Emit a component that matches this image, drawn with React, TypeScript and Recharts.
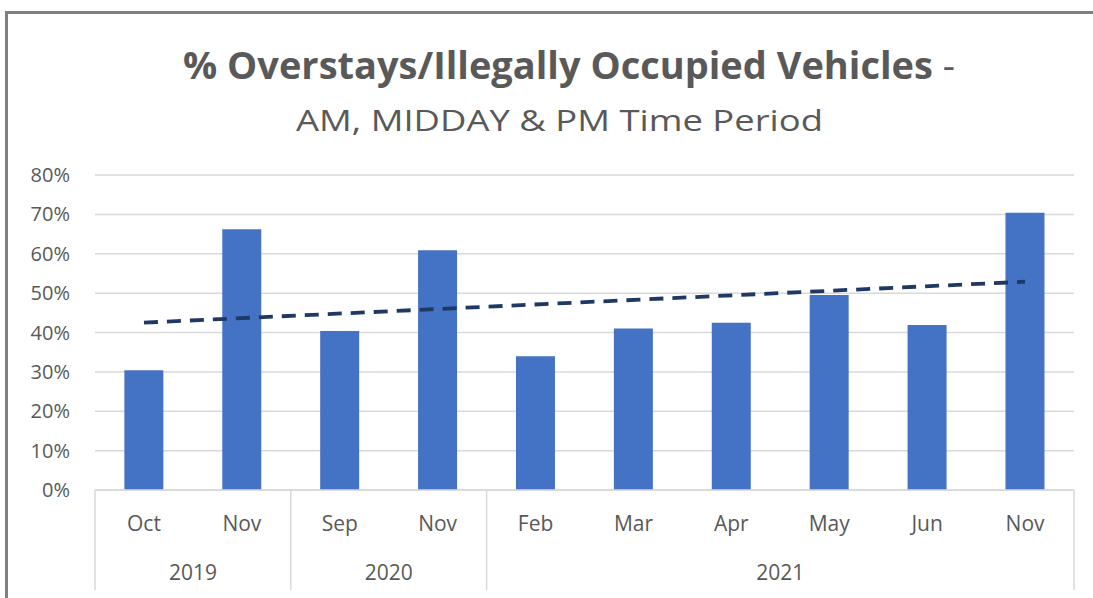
import React from "react";
import {
  ComposedChart,
  Bar,
  Line,
  XAxis,
  YAxis,
  CartesianGrid,
} from "recharts";

// ---- data ----
const months = ["Oct", "Nov", "Sep", "Nov", "Feb", "Mar", "Apr", "May", "Jun", "Nov"];
const years = ["2019", "2019", "2020", "2020", "2021", "2021", "2021", "2021", "2021", "2021"];
const overstayPct = [30.4, 66.2, 40.4, 60.9, 34.0, 41.0, 42.5, 49.5, 41.9, 70.4];
// linear trendline as drawn (end points)
const trendPct: (number | null)[] = [42.5, null, null, null, null, null, null, null, null, 52.9];
const yTicks = [0, 10, 20, 30, 40, 50, 60, 70, 80];

const titleMain = "% Overstays/Illegally Occupied Vehicles";
const titleDash = " -";
const subtitle = "AM, MIDDAY & PM Time Period";

const data = months.map((m, i) => ({
  month: m,
  year: years[i],
  value: overstayPct[i],
  trend: trendPct[i],
}));

// ---- layout ----
const W = 1093;
const H = 598;
const PLOT_LEFT = 95;
const PLOT_RIGHT = 1074;
const PLOT_TOP = 175;
const PLOT_BOTTOM = 490;
const PLOT_W = PLOT_RIGHT - PLOT_LEFT;
const FONT = "'Open Sans', 'Noto Sans', sans-serif";
const TEXT = "#595959";
const GRID = "#d9d9d9";
const FRAME = "#808080";

function MonthTick(props: any) {
  const { x, y, payload } = props;
  const i: number = props.index ?? payload.index;
  const band = PLOT_W / months.length;
  const parts: React.ReactNode[] = [];
  parts.push(
    <text key="m" x={x} y={y + 41} textAnchor="middle" fill={TEXT} fontSize={21} fontFamily={FONT}>
      {payload.value}
    </text>
  );
  const isFirst = i === 0 || years[i] !== years[i - 1];
  if (isFirst) {
    parts.push(
      <line key="l" x1={x - band / 2} x2={x - band / 2} y1={y} y2={y + 100} stroke={GRID} strokeWidth={1.5} />
    );
    const n = years.filter((yy) => yy === years[i]).length;
    parts.push(
      <text key="y" x={x + ((n - 1) / 2) * band} y={y + 90} textAnchor="middle" fill={TEXT} fontSize={21} fontFamily={FONT}>
        {years[i]}
      </text>
    );
  }
  if (i === months.length - 1) {
    parts.push(
      <line key="r" x1={x + band / 2} x2={x + band / 2} y1={y} y2={y + 100} stroke={GRID} strokeWidth={1.5} />
    );
  }
  return <g>{parts}</g>;
}

export default function App() {
  return (
    <div
      style={{
        position: "absolute",
        left: 0,
        top: 0,
        width: W,
        height: H,
        overflow: "hidden",
        background: "#fff",
      }}
    >
      <svg width={W} height={H} style={{ position: "absolute", left: 0, top: 0 }}>
        <line x1={5} x2={W} y1={12.5} y2={12.5} stroke={FRAME} strokeWidth={3} />
        <line x1={6.5} x2={6.5} y1={11} y2={H} stroke={FRAME} strokeWidth={3} />
        <text
          x={569}
          y={79}
          textAnchor="middle"
          fill={TEXT}
          fontSize={37}
          fontFamily={FONT}
          textLength={772}
          lengthAdjust="spacingAndGlyphs"
        >
          <tspan fontWeight={700}>{titleMain}</tspan>
          <tspan fontWeight={400}>{titleDash}</tspan>
        </text>
        <text
          x={559.5}
          y={131}
          textAnchor="middle"
          fill={TEXT}
          fontSize={29}
          fontFamily={FONT}
          textLength={527}
          lengthAdjust="spacingAndGlyphs"
        >
          {subtitle}
        </text>
      </svg>
      <div style={{ position: "absolute", left: 0, top: 0 }}>
        <ComposedChart
          width={W}
          height={H}
          data={data}
          margin={{ top: PLOT_TOP, right: W - PLOT_RIGHT, bottom: 0, left: 0 }}
          barCategoryGap="30%"
        >
          <CartesianGrid vertical={false} stroke={GRID} strokeWidth={1.5} />
          <XAxis
            dataKey="month"
            interval={0}
            height={H - PLOT_BOTTOM}
            axisLine={{ stroke: GRID, strokeWidth: 1.5 }}
            tickLine={false}
            tickSize={0}
            tickMargin={0}
            tick={<MonthTick />}
          />
          <YAxis
            width={PLOT_LEFT}
            domain={[0, 80]}
            ticks={yTicks}
            interval={0}
            tickFormatter={(v: number) => `${v}%`}
            axisLine={false}
            tickLine={false}
            tickSize={6}
            tickMargin={19}
            tick={{ fill: TEXT, fontSize: 20, fontFamily: FONT }}
          />
          <Bar dataKey="value" fill="#4472C4" isAnimationActive={false} />
          <Line
            dataKey="trend"
            connectNulls
            stroke="#1F3864"
            strokeWidth={3.8}
            strokeDasharray="14 9"
            dot={false}
            activeDot={false}
            isAnimationActive={false}
          />
        </ComposedChart>
      </div>
    </div>
  );
}
